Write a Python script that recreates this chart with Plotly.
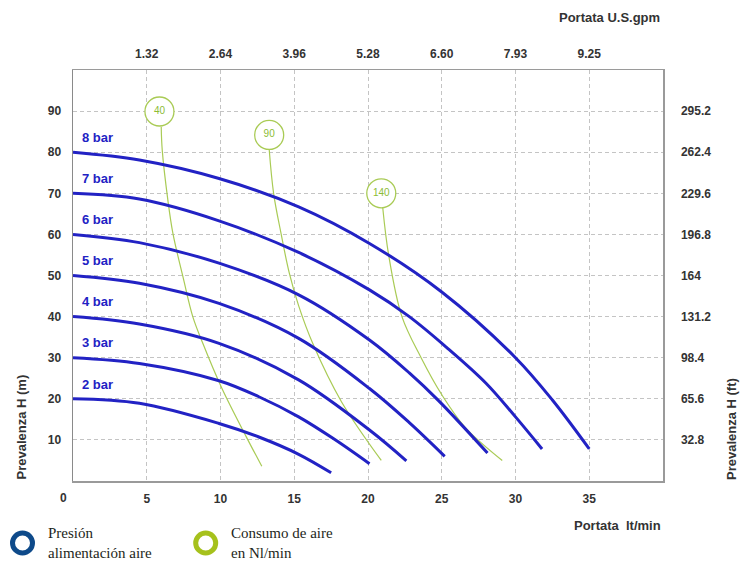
import plotly.graph_objects as go

# ---------------- data ----------------
flow_ticks = [5, 10, 15, 20, 25, 30, 35]
flow_tick_labels = ["5", "10", "15", "20", "25", "30", "35"]
gpm_tick_labels = ["1.32", "2.64", "3.96", "5.28", "6.60", "7.93", "9.25"]
head_ticks = [10, 20, 30, 40, 50, 60, 70, 80, 90]
head_ft_labels = ["32.8", "65.6", "98.4", "131.2", "164", "196.8", "229.6", "262.4", "295.2"]

bar_names = ["8 bar", "7 bar", "6 bar", "5 bar", "4 bar", "3 bar", "2 bar"]
bar_x = [
    [0, 4.5, 9.9, 15.3, 20.1, 25.0, 30.0, 32.5, 35.0],
    [0, 4.5, 9.9, 15.3, 20.1, 22.8, 25.3, 28.0, 30.0, 31.8],
    [0, 4.5, 9.9, 15.3, 20.1, 22.8, 24.8, 28.1],
    [0, 4.5, 9.9, 15.3, 20.1, 22.8, 25.2],
    [0, 4.5, 9.9, 15.3, 20.1, 22.6],
    [0, 4.5, 9.9, 12.6, 15.3, 17.7, 20.1],
    [0, 4.5, 9.9, 12.6, 15.3, 17.5],
]
bar_y = [
    [80, 78.1, 73.6, 66.7, 57.8, 46.0, 30.0, 19.7, 7.8],
    [70, 68.6, 63.3, 55.6, 46.5, 40.0, 32.6, 23.8, 15.6, 7.8],
    [60, 58.0, 53.0, 45.3, 34.3, 26.3, 19.5, 6.8],
    [50, 48.1, 43.2, 34.7, 22.5, 14.2, 6.0],
    [40, 38.2, 33.5, 24.6, 12.4, 4.9],
    [30, 28.6, 24.4, 20.5, 15.6, 10.2, 4.2],
    [20, 18.9, 14.0, 10.7, 6.5, 2.0],
]

air_names = ["40", "90", "140"]
air_label_x = [5.86, 13.3, 20.9]
air_label_y = [89.9, 84.2, 70.0]
air_x = [
    [5.98, 6.05, 6.43, 6.77, 7.5, 8.12, 8.8, 10.1, 11.74, 12.8],
    [13.3, 13.6, 14.1, 14.67, 15.3, 16.25, 18.2, 20.9],
    [21.0, 21.4, 22.3, 23.6, 25.0, 26.6, 29.1],
]
air_y = [
    [86.2, 80.5, 68.4, 60.3, 49.0, 40.0, 33.5, 22.5, 10.8, 3.6],
    [80.7, 70.0, 60.3, 50.5, 42.6, 33.5, 19.3, 5.0],
    [66.5, 55.0, 40.0, 30.0, 21.0, 13.0, 5.0],
]

# ---------------- styles ----------------
BLUE = "#2222c4"
GREEN_LINE = "#a9cb55"
GREEN_TXT = "#8cbc35"
AX_FONT = dict(family="Liberation Sans, Arial, sans-serif", size=12, color="#333333", weight="bold")
GRID = "#c4c4c4"

# plot area in pixels
L, R, T, B = 73, 87, 70, 81
W, H = 750, 562
PW, PH = W - L - R, H - T - B


def px(x):
    return (x - L) / PW


def py(y):
    return (H - B - y) / PH


fig = go.Figure()

for xs, ys in zip(air_x, air_y):
    fig.add_trace(go.Scatter(x=xs, y=ys, mode="lines",
                             line=dict(color=GREEN_LINE, width=1.2, shape="spline", smoothing=1.0),
                             hoverinfo="skip", showlegend=False))

for name, xs, ys in zip(bar_names, bar_x, bar_y):
    fig.add_trace(go.Scatter(x=xs, y=ys, mode="lines", name=name,
                             line=dict(color=BLUE, width=3, shape="spline", smoothing=1.0), showlegend=False))

fig.add_trace(go.Scatter(x=air_label_x, y=air_label_y, mode="markers+text", text=air_names,
                         textposition="middle center",
                         textfont=dict(family="Liberation Sans, Arial", size=10, color=GREEN_TXT),
                         marker=dict(size=29, color="white", line=dict(color=GREEN_LINE, width=1.3)),
                         showlegend=False, hoverinfo="skip"))

# invisible trace for secondary axes
fig.add_trace(go.Scatter(x=[0, 40], y=[0, 100], xaxis="x2", yaxis="y2", mode="markers",
                         marker=dict(opacity=0), showlegend=False, hoverinfo="skip"))

for name, ys in zip(bar_names, bar_y):
    fig.add_annotation(x=0.5, y=ys[0] + 3.6, text=name, showarrow=False, xanchor="left", yanchor="middle",
                       font=dict(family="Liberation Sans, Arial", size=13, color=BLUE, weight="bold"))

fig.update_layout(
    width=W, height=H,
    margin=dict(l=L, r=R, t=T, b=B),
    paper_bgcolor="white", plot_bgcolor="white",
    xaxis=dict(range=[0, 40], tickvals=flow_ticks, ticktext=flow_tick_labels, showgrid=True,
               gridcolor=GRID, griddash="4px,3px", gridwidth=1, zeroline=False,
               showline=True, linecolor="#9a9a9a", linewidth=1.5, ticks="", tickfont=AX_FONT,
               ticklabelstandoff=6, fixedrange=True),
    yaxis=dict(range=[0, 100], tickvals=head_ticks, showgrid=True,
               gridcolor=GRID, griddash="4px,3px", gridwidth=1, zeroline=False,
               showline=True, linecolor="#8a8a8a", linewidth=1.5, ticks="", tickfont=AX_FONT,
               ticklabelstandoff=8, fixedrange=True),
    xaxis2=dict(range=[0, 40], overlaying="x", side="top", tickvals=flow_ticks, ticktext=gpm_tick_labels,
                showgrid=False, zeroline=False, showline=True, linecolor="#9a9a9a", linewidth=1.5,
                ticks="", tickfont=AX_FONT, ticklabelstandoff=6, fixedrange=True),
    yaxis2=dict(range=[0, 100], overlaying="y", side="right", tickvals=head_ticks, ticktext=head_ft_labels,
                showgrid=False, zeroline=False, showline=True, linecolor="#9a9a9a", linewidth=1.5,
                ticks="", tickfont=AX_FONT, ticklabelstandoff=14, fixedrange=True),
)

# origin label
fig.add_annotation(xref="paper", yref="paper", x=px(63), y=py(498), text="0", showarrow=False,
                   xanchor="center", yanchor="middle", font=AX_FONT)

TITLE_FONT = dict(family="Liberation Sans, Arial, sans-serif", size=13, color="#333333", weight="bold")
fig.add_annotation(xref="paper", yref="paper", x=px(662), y=py(17), text="Portata U.S.gpm", showarrow=False,
                   xanchor="right", yanchor="middle", font=TITLE_FONT)
fig.add_annotation(xref="paper", yref="paper", x=px(663), y=py(525), text="Portata&nbsp;&nbsp;lt/min",
                   showarrow=False, xanchor="right", yanchor="middle", font=TITLE_FONT)
fig.add_annotation(xref="paper", yref="paper", x=px(21), y=py(482), text="Prevalenza H (m)", showarrow=False,
                   textangle=-90, xanchor="center", yanchor="bottom", font=TITLE_FONT)
fig.add_annotation(xref="paper", yref="paper", x=px(731), y=py(482), text="Prevalenza H (ft)", showarrow=False,
                   textangle=-90, xanchor="center", yanchor="bottom", font=TITLE_FONT)

# legend
LEG_FONT = dict(family="Liberation Serif, Times New Roman, serif", size=15, color="#231f20")
for cx, color, txt in [(22.5, "#0e4a8a", "Presión<br>alimentación aire"),
                       (205.7, "#a6c11c", "Consumo de aire<br>en Nl/min")]:
    cy, r = 543, 10
    fig.add_shape(type="circle", xref="paper", yref="paper", x0=px(cx - r), x1=px(cx + r),
                  y0=py(cy + r), y1=py(cy - r), line=dict(color=color, width=5), fillcolor="rgba(0,0,0,0)")
    fig.add_annotation(xref="paper", yref="paper", x=px(cx + 23), y=py(cy), text=txt, showarrow=False,
                       xanchor="left", yanchor="middle", align="left", font=LEG_FONT)

fig.write_html("out.html", config={"displayModeBar": False, "staticPlot": True},
               post_script="document.body.style.margin='0';document.body.style.overflow='hidden';")
